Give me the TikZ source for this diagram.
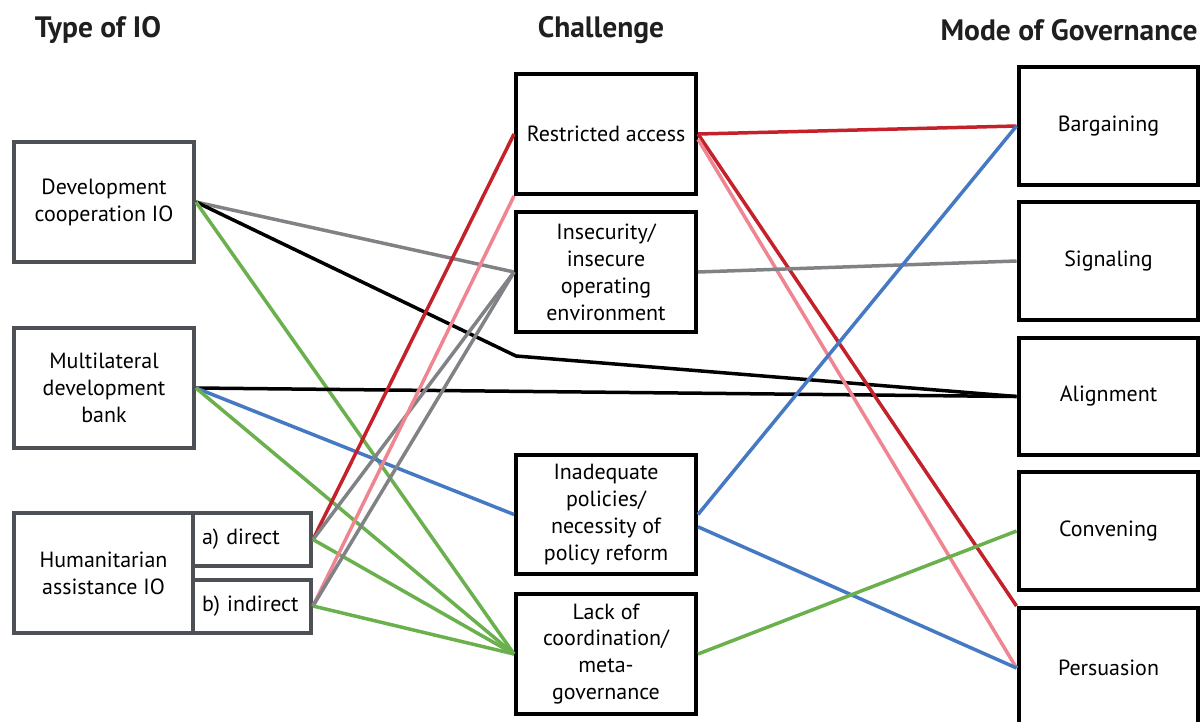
\documentclass[tikz,border=0pt]{standalone}
\usepackage{fontspec}
\setmainfont{PT Sans}
\usetikzlibrary{positioning}
\definecolor{LinkRed}{HTML}{C4212B}
\definecolor{LinkPink}{HTML}{F08592}
\definecolor{LinkGray}{HTML}{808285}
\definecolor{LinkGreen}{HTML}{6AB04C}
\definecolor{LinkBlue}{HTML}{4679C4}
\definecolor{BoxGray}{HTML}{4D5155}
\tikzstyle{TypeNode}=[draw=BoxGray, line width=0.08cm, fill=white, minimum width=3.6cm, minimum height=2.4cm, align=center, inner sep=0pt]
\tikzstyle{SubNode}=[TypeNode, minimum width=2.36cm, minimum height=1.06cm, text width=2.0cm, align=left]
\tikzstyle{ChalNode}=[draw=black, line width=0.08cm, fill=white, minimum width=3.6cm, minimum height=2.4cm, align=center, inner sep=0pt]
\tikzstyle{ModeNode}=[ChalNode, minimum height=2.36cm]
\tikzstyle{HeadNode}=[font=\bfseries\fontsize{16.8}{20}\selectfont, text=black!88, inner sep=0pt]
\tikzstyle{ConnLine}=[line width=0.07cm]

\begin{document}
\begin{tikzpicture}[x=0.02cm, y=-0.02cm, font=\fontsize{12.5}{15.3}\selectfont]
      \useasboundingbox (0,0) rectangle (1201,721);
      % column heads
      \node[HeadNode] (typehead) at (98,30) {Type of IO};
      \node[HeadNode] (chalhead) at (601,30) {Challenge};
      \node[HeadNode, anchor=east] (modehead) at (1198,30) {Mode of Governance};
      % type of IO
      \node[TypeNode] (dev) at (104,202) {Development\\cooperation IO};
      \node[TypeNode] (mdb) at (104,388) {Multilateral\\development\\bank};
      \node[TypeNode, minimum width=3.58cm] (hum) at (103.5,573) {Humanitarian\\assistance IO};
      \node[SubNode] (direct) at (252,539.5) {a) direct};
      \node[SubNode] (indirect) at (252,606) {b) indirect};
      % challenge
      \node[ChalNode] (restr) at (606,134) {Restricted access};
      \node[ChalNode] (insec) at (606,272) {Insecurity/\\insecure\\operating\\environment};
      \node[ChalNode] (inadq) at (606,514.5) {Inadequate\\policies/\\necessity of\\policy reform};
      \node[ChalNode] (lack) at (606,654) {Lack of\\coordination/\\meta-\\governance};
      % mode of governance
      \node[ModeNode] (barg) at (1108.5,126) {Bargaining};
      \node[ModeNode] (sign) at (1108.5,261) {Signaling};
      \node[ModeNode] (align) at (1108.5,396.5) {Alignment};
      \node[ModeNode] (conv) at (1108.5,531) {Convening};
      \node[ModeNode, minimum height=2.4cm] (pers) at (1108.5,668) {Persuasion};
      \coordinate (bend) at (516,356);
      % left links
      \draw[ConnLine, LinkGray] (dev.east) -- (insec.west);
      \draw[ConnLine, black] (dev.east) -- (bend) -- (align.west);
      \draw[ConnLine, LinkGreen] (dev.east) -- (lack.west);
      \draw[ConnLine, black] (mdb.east) -- (align.west);
      \draw[ConnLine, LinkBlue] (mdb.east) -- (inadq.west);
      \draw[ConnLine, LinkGreen] (mdb.east) -- (lack.west);
      \draw[ConnLine, LinkRed] (direct.east) -- (restr.west);
      \draw[ConnLine, LinkGray] (direct.east) -- (insec.west);
      \draw[ConnLine, LinkGreen] (direct.east) -- (lack.west);
      \draw[ConnLine, LinkPink] (indirect.east) -- (restr.south west);
      \draw[ConnLine, LinkGray] (indirect.east) -- (insec.west);
      \draw[ConnLine, LinkGreen] (indirect.east) -- (lack.west);
      % right links
      \draw[ConnLine, LinkRed] (restr.east) -- (barg.west);
      \draw[ConnLine, LinkRed] (restr.east) -- (pers.north west);
      \draw[ConnLine, LinkPink] ([yshift=-3pt]restr.east) -- (pers.west);
      \draw[ConnLine, LinkGray] (insec.east) -- (sign.west);
      \draw[ConnLine, LinkBlue] (inadq.east) -- (barg.west);
      \draw[ConnLine, LinkBlue] ([yshift=-7pt]inadq.east) -- (pers.west);
      \draw[ConnLine, LinkGreen] (lack.east) -- (conv.west);
    \end{tikzpicture}
\end{document}
